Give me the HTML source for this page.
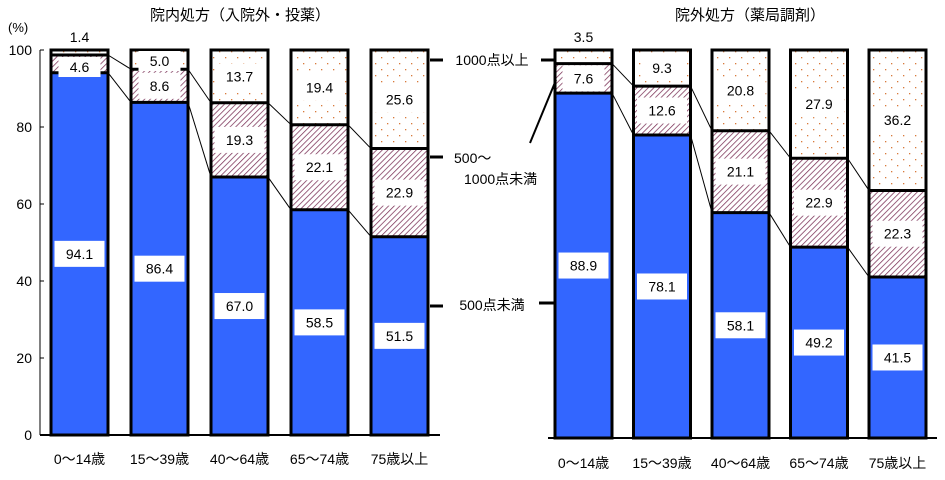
<!DOCTYPE html>
<html><head><meta charset="utf-8"><style>
html,body{margin:0;padding:0;background:#fff;}
svg{display:block;font-family:"Liberation Sans","Noto Sans CJK JP",sans-serif;}
</style></head><body>
<svg id="c" width="945" height="480" viewBox="0 0 945 480" xmlns="http://www.w3.org/2000/svg">
<defs>
<pattern id="hatch" width="4" height="4" patternUnits="userSpaceOnUse" patternTransform="rotate(45)">
<rect width="4" height="4" fill="#fff"/><line x1="0" y1="0" x2="0" y2="4" stroke="#7a2f55" stroke-width="1.5"/></pattern>
<pattern id="dots" width="12" height="12" patternUnits="userSpaceOnUse">
<rect width="12" height="12" fill="#fff"/><rect x="3" y="3" width="1.3" height="1.3" fill="#d87a3a"/><rect x="9" y="9" width="1.3" height="1.3" fill="#d87a3a"/></pattern>
</defs>
<text x="240" y="20" font-size="15" text-anchor="middle">院内処方（入院外・投薬）</text>
<text x="750" y="20" font-size="15" text-anchor="middle">院外処方（薬局調剤）</text>
<text x="8" y="32" font-size="13">(%)</text>
<g id="g"></g>
<g>
<line x1="430" y1="60" x2="443" y2="60" stroke="#000" stroke-width="3"/>
<line x1="541" y1="60" x2="555" y2="60" stroke="#000" stroke-width="3"/>
<text x="492" y="65" font-size="14" text-anchor="middle">1000点以上</text>
<line x1="430" y1="157" x2="443" y2="157" stroke="#000" stroke-width="3"/>
<line x1="530" y1="143" x2="556" y2="80" stroke="#000" stroke-width="2"/>
<text x="454" y="163" font-size="14">500～</text>
<text x="464" y="184" font-size="14">1000点未満</text>
<line x1="430" y1="306" x2="443" y2="306" stroke="#000" stroke-width="3"/>
<line x1="539" y1="303" x2="555" y2="303" stroke="#000" stroke-width="3"/>
<text x="492" y="310" font-size="14" text-anchor="middle">500点未満</text>
</g>
</svg>
<script>
const categories = ["0～14歳","15～39歳","40～64歳","65～74歳","75歳以上"];
const leftLow = [94.1,86.4,67.0,58.5,51.5];
const leftMid = [4.6,8.6,19.3,22.1,22.9];
const leftHigh = [1.4,5.0,13.7,19.4,25.6];
const rightLow = [88.9,78.1,58.1,49.2,41.5];
const rightMid = [7.6,12.6,21.1,22.9,22.3];
const rightHigh = [3.5,9.3,20.8,27.9,36.2];
const yTicks = [0,20,40,60,80,100];

const NS="http://www.w3.org/2000/svg";
const g=document.getElementById('g');
function mk(t,a,p){const e=document.createElementNS(NS,t);for(const k in a)e.setAttribute(k,a[k]);(p||g).appendChild(e);return e;}

function chart(side,x0,pitch,bw,yBase,yTop,low,mid,high,catY){
  const y=v=>yBase-(yBase-yTop)*v/100;
  const grp=mk('g',{});
  
  
  const axX=side==='left'?40:548;
  const axR=side==='left'?440:937;
  const ax=mk('line',{x1:axX,y1:yBase,x2:axR,y2:yBase,stroke:'#000','stroke-width':2},grp);
  
  
  if(side==='left'){
    const ya=mk('line',{x1:axX,y1:yBase,x2:axX,y2:yTop,stroke:'#000','stroke-width':1},grp);
    
    
    yTicks.forEach(t=>{
      mk('line',{x1:axX,y1:y(t),x2:axX+4,y2:y(t),stroke:'#000'},grp);
      const tx=mk('text',{x:axX-8,y:y(t)+5,'font-size':14,'text-anchor':'end'},grp);
      tx.textContent=t;
      
      
    });
  }
  categories.forEach((c,i)=>{
    const bx=x0+i*pitch;
    const segs=[[0,low[i],'#3366ff'],[low[i],low[i]+mid[i],'url(#hatch)'],[low[i]+mid[i],100,'url(#dots)']];
    const names=['low','mid','high'];
    segs.forEach((s,j)=>{
      const r=mk('rect',{x:bx,y:y(s[1]),width:bw,height:y(s[0])-y(s[1]),fill:s[2]},grp);
      
      
    });
    mk('rect',{x:bx,y:y(100),width:bw,height:y(0)-y(100),fill:'none',stroke:'#000','stroke-width':3},grp);
    [low[i],low[i]+mid[i]].forEach(v=>mk('line',{x1:bx,y1:y(v),x2:bx+bw,y2:y(v),stroke:'#000','stroke-width':3},grp));
    if(i<categories.length-1){
      [0,1].forEach(k=>{
        const a=k===0?low[i]:low[i]+mid[i], b=k===0?low[i+1]:low[i+1]+mid[i+1];
        mk('line',{x1:bx+bw,y1:y(a),x2:bx+pitch,y2:y(b),stroke:'#000','stroke-width':1},grp);
      });
    }
    const vals=[low[i],mid[i],high[i]];
    const cents=[y(low[i]/2),y(low[i]+mid[i]/2),y((low[i]+mid[i]+100)/2)];
    if(high[i]<6){cents[2]=high[i]<4?yTop-13:y(100)+11;}
    if(mid[i]<5){cents[1]=y(low[i]+mid[i])+12;}
    vals.forEach((v,j)=>{
      const lab=v.toFixed(1);
      const w=lab.length*8+18;
      const h=(j===2&&high[i]<6)||(j===1&&mid[i]<5)?20:26;
      if(!(j===2&&high[i]<4)) mk('rect',{x:bx+bw/2-w/2,y:cents[j]-h/2,width:w,height:h,fill:'#fff'},grp);
      const t=mk('text',{x:bx+bw/2,y:cents[j]+5,'font-size':14,'text-anchor':'middle'},grp);
      t.textContent=lab;
      
      
    });
    const ct=mk('text',{x:bx+bw/2,y:catY,'font-size':14,'text-anchor':'middle'},grp);
    ct.textContent=c;
    
    
  });
}
chart('left',51,80,57,435,50,leftLow,leftMid,leftHigh,464);
chart('right',555,78.5,57,438,50,rightLow,rightMid,rightHigh,468);
</script>
</body></html>
